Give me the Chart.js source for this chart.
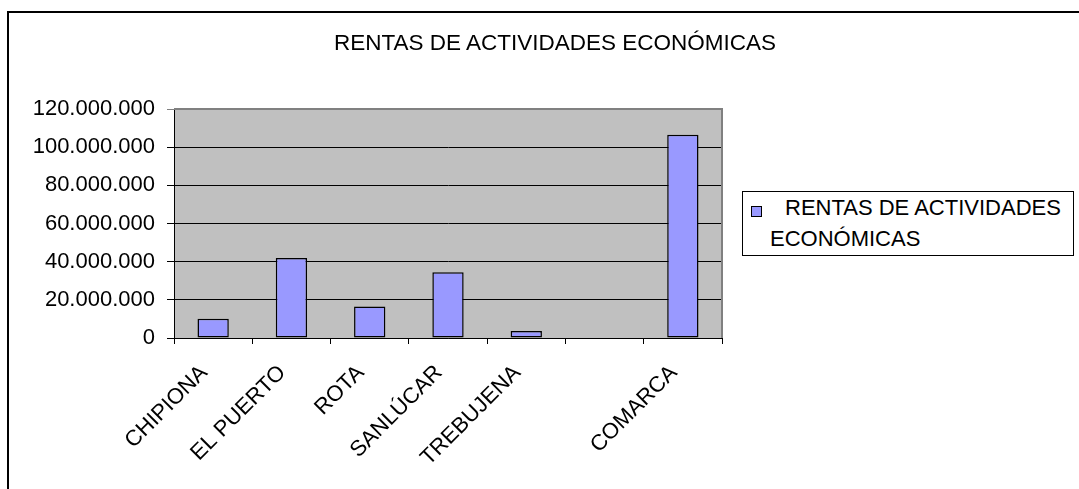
<!DOCTYPE html>
<html>
<head>
<meta charset="utf-8">
<script src="https://cdn.jsdelivr.net/npm/chart.js@4.4.1/dist/chart.umd.min.js"></script>
<style>
  body { margin: 0; background: #fff; overflow: hidden; }
  #wrap { position: relative; width: 1079px; height: 489px; font-family: "Liberation Sans", Arial, sans-serif; }
  #frame { position: absolute; left: 7px; top: 11px; width: 1100px; height: 520px; border: 2px solid #000; box-sizing: border-box; }
  #chart { position: absolute; left: 0; top: 0; }
  #title { position: absolute; left: 555px; top: 32px; transform: translateX(-50%); font-size: 22.5px; line-height: 22.5px; white-space: nowrap; color: #000; }
  #legend { position: absolute; left: 742px; top: 191px; width: 332px; height: 65px; border: 1px solid #000; box-sizing: border-box; background: #fff; }
  #legend .mark { position: absolute; left: 8px; top: 14px; width: 11px; height: 11px; border: 1.5px solid #000; box-sizing: border-box; }
  #legend .txt { position: absolute; left: 27px; top: 0px; width: 300px; font-size: 22px; line-height: 31px; text-indent: 15px; color: #000; }
</style>
</head>
<body>
<div id="wrap">
  <div id="frame"></div>
  <canvas id="chart" width="1079" height="489"></canvas>
  <div id="title"></div>
  <div id="legend"><div class="mark"></div><div class="txt"></div></div>
</div>
<script>
// data
let TITLE = "RENTAS DE ACTIVIDADES ECONÓMICAS";
let SERIES = "RENTAS DE ACTIVIDADES ECONÓMICAS";
let labels = ["CHIPIONA", "EL PUERTO", "ROTA", "SANLÚCAR", "TREBUJENA", "", "COMARCA"];
let values = [10100000, 41900000, 16500000, 34400000, 3650000, null, 106500000];
let yTicks = [0, 20000000, 40000000, 60000000, 80000000, 100000000, 120000000];

let BAR = "#9999FF";
let FONT = "'Liberation Sans', Arial, sans-serif";

// 120000000 -> 120.000.000
function dots(v){
    return String(v).replace(/\B(?=(\d{3})+(?!\d))/g, ".");
}

// grey plot background + grey top/right edge like excel
var plotArea = {
    id: "plotArea",
    beforeDraw: function(chart){
        let a = chart.chartArea;
        let c = chart.ctx;
        c.save();
        c.fillStyle = "#C0C0C0";
        c.fillRect(a.left, a.top, a.right - a.left, a.bottom - a.top);
        c.restore();
    },
    beforeDatasetsDraw: function(chart){
        let a = chart.chartArea;
        let c = chart.ctx;
        c.save();
        c.strokeStyle = "#808080";
        c.lineWidth = 2;
        c.beginPath();
        c.moveTo(a.left, a.top);
        c.lineTo(a.right, a.top);
        c.lineTo(a.right, a.bottom);
        c.stroke();
        c.restore();
    }
};

document.getElementById("title").textContent = TITLE;
document.querySelector("#legend .txt").textContent = SERIES;
document.querySelector("#legend .mark").style.background = BAR;

var ctx = document.getElementById("chart");
var chart = new Chart(ctx, {
    type: "bar",
    data: {
        labels: labels,
        datasets: [{
            label: SERIES,
            data: values,
            backgroundColor: BAR,
            borderColor: "#000",
            borderWidth: 1.5,
            borderSkipped: false,
            categoryPercentage: 1.0,
            barPercentage: 0.4
        }]
    },
    options: {
        responsive: false,
        animation: false,
        devicePixelRatio: 1,
        layout: { padding: { left: 0, top: 109, right: 357, bottom: 0 } },
        plugins: {
            legend: { display: false },
            title: { display: false },
            tooltip: { enabled: false }
        },
        scales: {
            x: {
                offset: true,
                afterFit: function(s){ s.height = 151; },
                grid: { offset: true, drawOnChartArea: false, drawTicks: true, tickLength: 6, color: "#000" },
                border: { color: "#000", width: 1 },
                ticks: {
                    autoSkip: false, maxRotation: 45, minRotation: 45, padding: 16, labelOffset: -9,
                    color: "#000", font: { family: FONT, size: 22 }
                }
            },
            y: {
                min: 0, max: 120000000,
                afterFit: function(s){ s.width = 174; },
                afterBuildTicks: function(s){ s.ticks = yTicks.map(function(v){ return { value: v }; }); },
                grid: {
                    color: function(c){ return c.tick && c.tick.value == 120000000 ? "#808080" : "#000"; },
                    lineWidth: 1, tickLength: 7
                },
                border: { color: "#000", width: 1 },
                ticks: {
                    padding: 12, color: "#000", font: { family: FONT, size: 22 },
                    callback: function(v){ return dots(v); }
                }
            }
        }
    },
    plugins: [plotArea]
});
</script>
</body>
</html>
